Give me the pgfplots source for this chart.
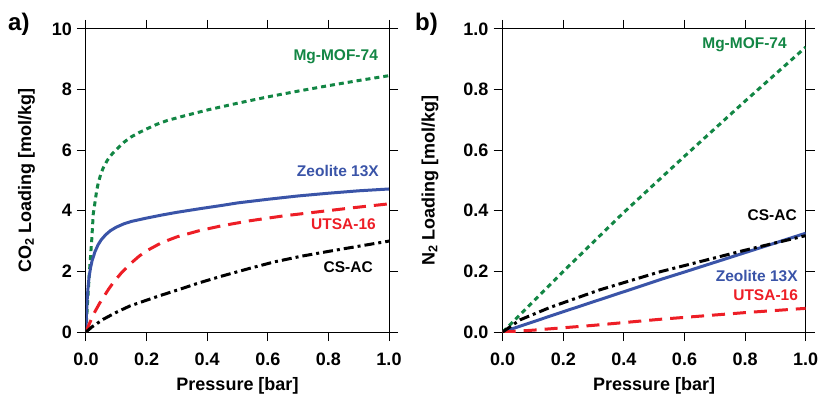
\documentclass[border=0pt]{standalone}
\usepackage{fontspec}
\setmainfont{Liberation Sans}
\usepackage{pgfplots}
\pgfplotsset{compat=1.18}
\definecolor{mgreen}{RGB}{18,134,68}
\definecolor{zblue}{RGB}{58,84,168}
\definecolor{ured}{RGB}{237,30,38}
\tikzset{tl/.style={inner sep=0, font=\fontsize{18}{18}\selectfont\bfseries},
  sl/.style={anchor=east, inner sep=0, font=\fontsize{15.5}{15.5}\selectfont\bfseries}}
\pgfplotsset{panel/.style={
  scale only axis, width=303pt, height=303pt,
  xmin=0, xmax=1, clip mode=individual,
  tick align=outside, major tick length=9pt,
  xtick={0,0.2,0.4,0.6,0.8,1.0},
  xticklabels={}, yticklabels={},
  axis line style={line width=1pt},
  every tick/.style={line width=1pt, black},
  xlabel={Pressure [bar]},
  every axis x label/.style={at={(axis description cs:0.5,-0.194)}, anchor=base, font=\fontsize{18}{18}\selectfont\bfseries},
  mg/.style={mgreen, line width=3pt, dash pattern=on 5pt off 4pt},
  zb/.style={zblue, line width=3pt, solid},
  ur/.style={ured, line width=3pt, dash pattern=on 13pt off 8pt},
  cs/.style={black, line width=3pt, dash pattern=on 10pt off 4pt on 3pt off 4pt},
}}
\begin{document}
\begin{tikzpicture}[x=1pt,y=1pt]
\useasboundingbox (0,0) rectangle (820,394);
\begin{axis}[panel, at={(86pt,62pt)}, anchor=south west,
  ymin=0, ymax=10, ytick={0,2,4,6,8,10},
  ylabel={CO\textsubscript{2} Loading [mol/kg]},
  every axis y label/.style={at={(axis description cs:-0.1815,0.5)}, anchor=base, rotate=90, font=\fontsize{18}{18}\selectfont\bfseries}]
\addplot[mg] coordinates {(0,0) (0.002,0.4) (0.004,0.8) (0.008,1.45) (0.011,1.92) (0.015,2.5) (0.019,3.05) (0.024,3.9) (0.03,4.3) (0.035,4.65) (0.04,4.9) (0.0485,5.2) (0.057,5.42) (0.07,5.66) (0.08,5.8) (0.09,5.92) (0.103,6.05) (0.125,6.26) (0.1475,6.43) (0.175,6.58) (0.202,6.71) (0.235,6.86) (0.268,6.98) (0.323,7.13) (0.406,7.34) (0.5,7.55) (0.6,7.76) (0.7,7.95) (0.8,8.13) (0.9,8.3) (1.0,8.46)};
\addplot[zb] coordinates {(0,0) (0.001,0.4) (0.002,0.68) (0.004,1.08) (0.007,1.5) (0.01,1.8) (0.015,2.12) (0.02,2.35) (0.03,2.66) (0.04,2.88) (0.05,3.04) (0.065,3.21) (0.08,3.34) (0.1,3.46) (0.125,3.57) (0.15,3.65) (0.2,3.76) (0.25,3.86) (0.3,3.95) (0.376,4.07) (0.45,4.18) (0.5,4.26) (0.6,4.38) (0.7,4.49) (0.8,4.58) (0.9,4.66) (1.0,4.72)};
\addplot[ur] coordinates {(0,0) (0.011,0.27) (0.02,0.47) (0.03,0.68) (0.045,0.95) (0.057,1.14) (0.075,1.42) (0.09,1.63) (0.115,1.93) (0.145,2.24) (0.175,2.5) (0.2,2.68) (0.25,2.95) (0.3,3.14) (0.376,3.35) (0.45,3.51) (0.54,3.67) (0.65,3.83) (0.761,3.96) (0.88,4.1) (1.0,4.23)};
\addplot[cs] coordinates {(0,0) (0.02,0.17) (0.057,0.42) (0.1,0.65) (0.145,0.86) (0.2,1.05) (0.244,1.2) (0.3,1.38) (0.376,1.63) (0.45,1.85) (0.54,2.1) (0.62,2.31) (0.71,2.5) (0.8,2.66) (0.87,2.78) (1.0,3.0)};
\pgfplotsinvokeforeach{0.0,0.2,0.4,0.6,0.8,1.0}{\node[tl, anchor=base] at ([yshift=-33pt]axis cs:#1,0) {#1};}
\pgfplotsinvokeforeach{0,2,4,6,8,10}{\node[tl, anchor=east] at ([xshift=-14pt]axis cs:0,#1) {#1};}
\node[sl, text=mgreen] at (axis cs:0.964,9.08) {Mg-MOF-74};
\node[sl, text=zblue] at (axis cs:0.967,5.31) {Zeolite 13X};
\node[sl, text=ured] at (axis cs:0.957,3.56) {UTSA-16};
\node[sl, text=black] at (axis cs:0.947,2.15) {CS-AC};
\end{axis}
\begin{axis}[panel, at={(502.7pt,62pt)}, anchor=south west,
  ymin=0, ymax=1, ytick={0,0.2,0.4,0.6,0.8,1.0},
  ylabel={N\textsubscript{2} Loading [mol/kg]},
  every axis y label/.style={at={(axis description cs:-0.2247,0.5)}, anchor=base, rotate=90, font=\fontsize{18}{18}\selectfont\bfseries}]
\addplot[mg] coordinates {(0,0) (0.2,0.2) (0.4,0.395) (0.6,0.58) (0.8,0.762) (1.0,0.94)};
\addplot[zb] coordinates {(0,0) (0.2,0.067) (0.4,0.133) (0.52,0.173) (0.6,0.198) (0.8,0.262) (1.0,0.326)};
\addplot[ur] coordinates {(0,0) (0.1,0.006) (0.3,0.022) (0.52,0.042) (0.8,0.064) (1.0,0.078)};
\addplot[cs] coordinates {(0,0) (0.057,0.04) (0.156,0.081) (0.32,0.139) (0.52,0.199) (0.8,0.27) (1.0,0.318)};
\pgfplotsinvokeforeach{0.0,0.2,0.4,0.6,0.8,1.0}{\node[tl, anchor=base] at ([yshift=-33pt]axis cs:#1,0) {#1};}
\pgfplotsinvokeforeach{0.0,0.2,0.4,0.6,0.8,1.0}{\node[tl, anchor=east] at ([xshift=-14pt]axis cs:0,#1) {#1};}
\node[sl, text=mgreen] at (axis cs:0.938,0.947) {Mg-MOF-74};
\node[sl, text=black] at (axis cs:0.971,0.384) {CS-AC};
\node[sl, text=zblue] at (axis cs:0.974,0.185) {Zeolite 13X};
\node[sl, text=ured] at (axis cs:0.975,0.12) {UTSA-16};
\end{axis}
\node[anchor=base west, inner sep=0, font=\fontsize{24}{24}\selectfont\bfseries] at (8,363) {a)};
\node[anchor=base west, inner sep=0, font=\fontsize{24}{24}\selectfont\bfseries] at (415,363) {b)};
\end{tikzpicture}
\end{document}
